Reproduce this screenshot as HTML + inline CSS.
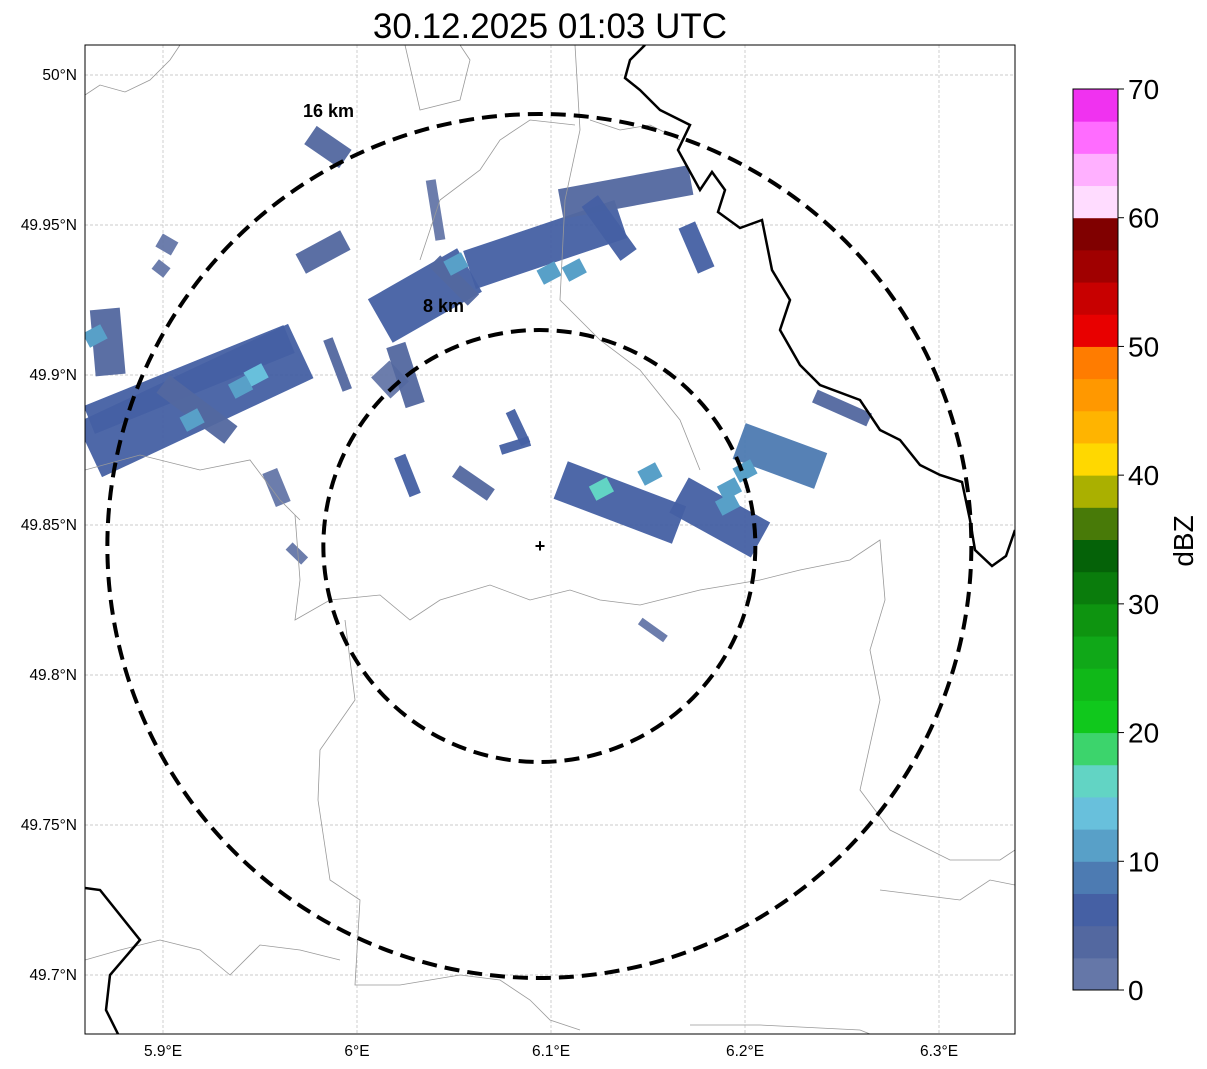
<!DOCTYPE html>
<html><head><meta charset="utf-8"><style>
body{margin:0;background:#fff;}
svg{display:block;font-family:"Liberation Sans","DejaVu Sans",sans-serif;}
</style></head><body>
<svg id="chart" width="1207" height="1069" viewBox="0 0 1207 1069" xmlns="http://www.w3.org/2000/svg">
<text x="550" y="38" font-size="35" text-anchor="middle">30.12.2025 01:03 UTC</text>
<defs><clipPath id="mapclip"><rect x="85" y="45" width="930" height="989"/></clipPath></defs>
<g id="grid"></g>
<g clip-path="url(#mapclip)">
<g id="echoes"></g>
<g fill="none" stroke="#999" stroke-width="0.8">
<path d="M85,95 L100,85 L125,92 L150,80 L170,60 L180,45"/>
<path d="M405,45 L420,110 L460,100 L470,60 L460,45"/>
<path d="M575,45 L580,130 L565,200 L560,300 L600,340 L640,370 L680,420 L700,470"/>
<path d="M590,120 L620,130 L650,125 L680,140"/>
<path d="M420,260 L440,200 L480,170 L500,140 L530,120 L575,125"/>
<path d="M295,515 L300,580 L295,620 L330,600 L380,595 L410,620 L440,600 L490,585 L530,600 L570,590 L600,600 L640,605 L700,590 L760,580 L800,570 L850,560 L880,540 L885,600 L870,650 L880,700 L860,790 L890,830 L950,860 L1000,860 L1015,850"/>
<path d="M345,620 L355,700 L320,750 L318,800 L330,880 L360,900 L355,985 L400,985 L460,975 L500,980 L530,1000 L550,1020 L580,1030"/>
<path d="M85,960 L120,950 L160,940 L200,950 L230,975 L260,945 L300,950 L340,960"/>
<path d="M690,1025 L760,1025 L860,1030 L870,1034"/>
<path d="M880,890 L920,895 L960,900 L990,880 L1015,885"/>
<path d="M85,470 L140,455 L200,470 L250,460 L280,500 L300,520"/>
</g>
<g fill="none" stroke="#000" stroke-width="2.5">
<path d="M645,45 L630,60 L625,78 L640,90 L660,110 L690,125 L678,150 L700,190 L712,172 L725,190 L718,212 L740,228 L762,220 L772,270 L790,300 L780,330 L800,365 L820,385 L860,400 L880,430 L900,440 L920,465 L940,475 L962,482 L970,520 L975,550 L992,566 L1006,556 L1015,530"/>
<path d="M85,888 L100,890 L140,940 L110,975 L106,1010 L118,1034"/>
</g>
<g id="rings"></g>
</g>
<rect x="85" y="45" width="930" height="989" fill="none" stroke="#000" stroke-width="1"/>
<text x="303" y="117" font-size="18" font-weight="bold">16 km</text>
<text x="423" y="312" font-size="18" font-weight="bold">8 km</text>
<text x="540" y="552" font-size="18" font-weight="bold" text-anchor="middle">+</text>
<g id="axes" font-size="15.5"></g>
<g id="cbar"></g>
<text transform="translate(1193,541) rotate(-90)" font-size="28" text-anchor="middle">dBZ</text>
</svg>
<script>
const NS="http://www.w3.org/2000/svg";
const lonTicks=[5.9,6.0,6.1,6.2,6.3];
const lonLabels=["5.9°E","6°E","6.1°E","6.2°E","6.3°E"];
const latTicks=[50,49.95,49.9,49.85,49.8,49.75,49.7];
const latLabels=["50°N","49.95°N","49.9°N","49.85°N","49.8°N","49.75°N","49.7°N"];
const cbarTicks=[0,10,20,30,40,50,60,70];
const cbarColors=["#6577a8","#5368a0","#4560a4","#4d7bb2","#58a0c8","#68c0dc","#62d4c4","#3cd46c","#10c81c","#10b818","#10a818","#0e9410","#0a7c0c","#056208","#487a08","#aab000","#ffd800","#ffb400","#ff9800","#ff7c00","#e80000","#c80000","#a00000","#800000","#ffdcff","#ffb0ff","#ff6cff","#f032f0"];
const site=[6.094,49.843];
const ringKm=[8,16];
// echo bands: lon1, lat1, lon2, lat2, dBZ
const bandLon1=[6.012,6.058,6.105,6.012,6.038,5.862,5.862,5.870,5.898,5.896,5.971,5.976,6.079,6.074,6.051,6.022,5.955,5.965,6.105,6.166,6.197,6.236,6.146,6.020,6.120,5.900,6.170,6.040,5.985];
const bandLat1=[49.918,49.935,49.957,49.902,49.965,49.875,49.885,49.922,49.945,49.937,49.937,49.980,49.888,49.875,49.868,49.873,49.868,49.843,49.865,49.860,49.878,49.893,49.818,49.910,49.958,49.897,49.950,49.938,49.912];
const bandLon2=[6.058,6.136,6.172,6.022,6.043,5.971,5.965,5.873,5.906,5.902,5.994,5.994,6.087,6.089,6.069,6.030,5.962,5.973,6.166,6.208,6.239,6.264,6.159,6.030,6.140,5.935,6.180,6.060,5.995];
const bandLat2=[49.935,49.952,49.965,49.895,49.945,49.908,49.912,49.900,49.942,49.934,49.945,49.972,49.877,49.878,49.860,49.860,49.857,49.838,49.850,49.845,49.868,49.885,49.812,49.890,49.940,49.880,49.935,49.925,49.895];
const bandDbz=[5,5,3,2,2,5,6,3,2,2,3,3,5,5,3,5,2,1,5,5,8,3,2,3,5,3,5,3,3];
const bandWidth=[50,40,30,25,10,60,30,30,15,12,22,22,10,10,14,12,16,10,40,40,38,14,8,20,20,22,18,16,10];
// bright cells: lon, lat, dBZ
const cellLon=[6.051,6.099,6.112,6.126,5.948,5.940,6.151,6.191,6.200,6.192,5.865,5.915];
const cellLat=[49.937,49.934,49.935,49.862,49.900,49.896,49.867,49.857,49.868,49.862,49.913,49.885];
const cellDbz=[12,12,12,17,14,12,12,12,10,12,12,12];

const x=lon=>163+(lon-5.9)*1940;
const y=lat=>75+(50-lat)*3000;
const kmPx=216/8;
function col(d){return cbarColors[Math.max(0,Math.min(27,Math.floor(d/2.5)))];}

const grid=document.getElementById('grid');
lonTicks.forEach(v=>{const l=document.createElementNS(NS,'line');


l.setAttribute('x1',x(v));l.setAttribute('x2',x(v));l.setAttribute('y1',45);l.setAttribute('y2',1034);
l.setAttribute('stroke','#bbb');l.setAttribute('stroke-width','0.7');l.setAttribute('stroke-dasharray','3 2');grid.appendChild(l);});
latTicks.forEach(v=>{const l=document.createElementNS(NS,'line');


l.setAttribute('y1',y(v));l.setAttribute('y2',y(v));l.setAttribute('x1',85);l.setAttribute('x2',1015);
l.setAttribute('stroke','#bbb');l.setAttribute('stroke-width','0.7');l.setAttribute('stroke-dasharray','3 2');grid.appendChild(l);});

const echoes=document.getElementById('echoes');
bandDbz.forEach((d,i)=>{const l=document.createElementNS(NS,'line');


l.setAttribute('x1',x(bandLon1[i]));l.setAttribute('y1',y(bandLat1[i]));
l.setAttribute('x2',x(bandLon2[i]));l.setAttribute('y2',y(bandLat2[i]));
l.setAttribute('stroke',col(d));l.setAttribute('stroke-width',bandWidth[i]);l.setAttribute('opacity','0.95');
echoes.appendChild(l);});
cellDbz.forEach((d,i)=>{const r=document.createElementNS(NS,'rect');


const cx=x(cellLon[i]),cy=y(cellLat[i]);
r.setAttribute('x',cx-10);r.setAttribute('y',cy-8);r.setAttribute('width',20);r.setAttribute('height',16);
r.setAttribute('transform','rotate(-28 '+cx+' '+cy+')');r.setAttribute('fill',col(d));
echoes.appendChild(r);});

const rings=document.getElementById('rings');
ringKm.forEach(k=>{const c=document.createElementNS(NS,'circle');


c.setAttribute('cx',x(site[0]));c.setAttribute('cy',y(site[1]));c.setAttribute('r',k*kmPx);
c.setAttribute('fill','none');c.setAttribute('stroke','#000');c.setAttribute('stroke-width','4');c.setAttribute('stroke-dasharray','15 8');
rings.appendChild(c);});

const axes=document.getElementById('axes');
lonTicks.forEach((v,i)=>{const t=document.createElementNS(NS,'text');


t.setAttribute('x',x(v));t.setAttribute('y',1056);t.setAttribute('text-anchor','middle');t.textContent=lonLabels[i];axes.appendChild(t);});
latTicks.forEach((v,i)=>{const t=document.createElementNS(NS,'text');


t.setAttribute('x',77);t.setAttribute('y',y(v)+5);t.setAttribute('text-anchor','end');t.textContent=latLabels[i];axes.appendChild(t);});

const cb=document.getElementById('cbar');
const cbTop=89,cbBot=990,cbH=(cbBot-cbTop)/cbarColors.length;
cbarColors.forEach((c,i)=>{const r=document.createElementNS(NS,'rect');


r.setAttribute('x',1073);r.setAttribute('y',cbBot-(i+1)*cbH);r.setAttribute('width',45);r.setAttribute('height',cbH+0.5);r.setAttribute('fill',c);cb.appendChild(r);});
const fr=document.createElementNS(NS,'rect');


fr.setAttribute('x',1073);fr.setAttribute('y',cbTop);fr.setAttribute('width',45);fr.setAttribute('height',cbBot-cbTop);fr.setAttribute('fill','none');fr.setAttribute('stroke','#000');cb.appendChild(fr);
cbarTicks.forEach(v=>{const yy=cbBot-(v/70)*(cbBot-cbTop);
const tk=document.createElementNS(NS,'line');


tk.setAttribute('x1',1118);tk.setAttribute('x2',1124);tk.setAttribute('y1',yy);tk.setAttribute('y2',yy);tk.setAttribute('stroke','#000');cb.appendChild(tk);
const t=document.createElementNS(NS,'text');


t.setAttribute('x',1128);t.setAttribute('y',yy+10);t.setAttribute('font-size','28');t.textContent=v;cb.appendChild(t);});
</script>
</body></html>
